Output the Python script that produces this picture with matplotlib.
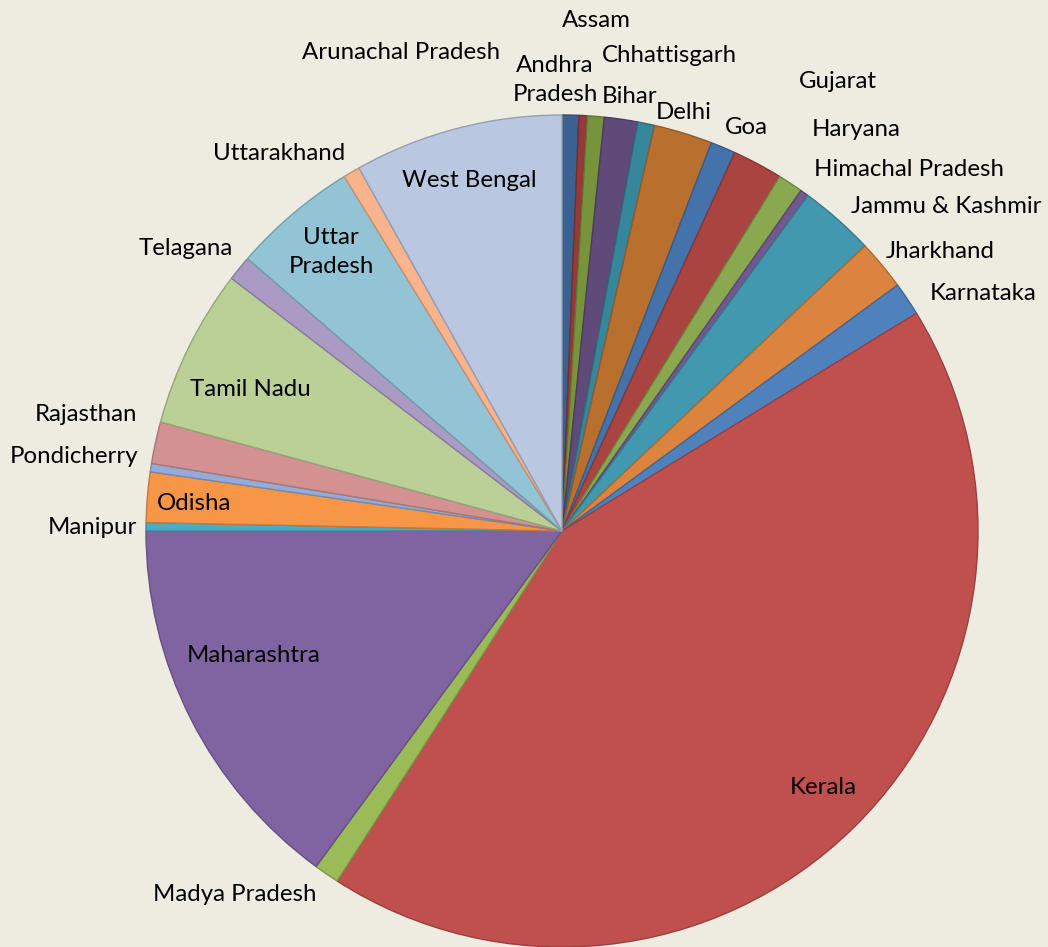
import matplotlib
matplotlib.use("Agg")
import matplotlib.pyplot as plt
import matplotlib.colors as mcolors

# states and counts, clockwise from 12 o'clock
states = ['Andhra Pradesh', 'Arunachal Pradesh', 'Assam', 'Bihar', 'Chhattisgarh',
          'Delhi', 'Goa', 'Gujarat', 'Haryana', 'Himachal Pradesh',
          'Jammu & Kashmir', 'Jharkhand', 'Karnataka', 'Kerala', 'Madya Pradesh',
          'Maharashtra', 'Manipur', 'Odisha', 'Pondicherry', 'Rajasthan',
          'Tamil Nadu', 'Telagana', 'Uttar Pradesh', 'Uttarakhand', 'West Bengal']
counts = [2, 1, 2, 4, 2, 7, 3, 6, 3, 1, 9, 6, 4, 132, 3, 46, 1, 6, 1, 5, 19, 3, 15, 2, 25]

colors = ['#3B6190', '#953A38', '#77933C', '#5F4A7A', '#37879B', '#B9702F',
          '#4473AB', '#A94441', '#8AA84F', '#725891', '#4298AE', '#DB843D',
          '#4F81BD', '#C0504D', '#9BBB59', '#8064A2', '#4BACC6', '#F79646',
          '#95ABD8', '#D39291', '#BAD097', '#A99BC3', '#93C4D6', '#F9B48D',
          '#B9C7E0']

# label text and where it sits (pixel coords of the reference image)
label_text = ['Andhra\nPradesh', 'Arunachal Pradesh', 'Assam', 'Bihar', 'Chhattisgarh',
              'Delhi', 'Goa', 'Gujarat', 'Haryana', 'Himachal Pradesh',
              'Jammu & Kashmir', 'Jharkhand', 'Karnataka', 'Kerala', 'Madya Pradesh',
              'Maharashtra', 'Manipur', 'Odisha', 'Pondicherry', 'Rajasthan',
              'Tamil Nadu', 'Telagana', 'Uttar\nPradesh', 'Uttarakhand', 'West Bengal']
label_pos = [(555, 80), (401, 52), (596, 20), (630, 96), (669, 55),
             (684, 112), (746, 127), (838, 81), (856, 129), (909, 169),
             (946, 206), (940, 251), (983, 293), (823, 787), (235, 894),
             (254, 656), (92, 528), (194, 503), (74, 456), (86, 414),
             (250, 389), (186, 248), (331, 252), (279, 153), (469, 180)]

W, H = 1048, 947
fig = plt.figure(figsize=(W / 100, H / 100), dpi=100)
fig.patch.set_facecolor('#EEECE1')
ax = fig.add_axes([0, 0, 1, 1])
ax.set_facecolor('#EEECE1')

wedges, _ = ax.pie(counts, colors=colors, startangle=90, counterclock=False,
                   center=(562, H - 531), radius=416, frame=True)
for w, c in zip(wedges, colors):
    r, g, b = mcolors.to_rgb(c)
    w.set_edgecolor((r * 0.8, g * 0.8, b * 0.8))
    w.set_linewidth(1.0)

for txt, (x, y) in zip(label_text, label_pos):
    ax.text(x, H - y, txt, ha='center', va='center', fontsize=17.3,
            family='Lato', color='black', linespacing=1.45)

ax.set_xlim(0, W)
ax.set_ylim(0, H)
ax.set_aspect('equal')
ax.axis('off')

plt.savefig('out.png', dpi=100, facecolor=fig.get_facecolor())
